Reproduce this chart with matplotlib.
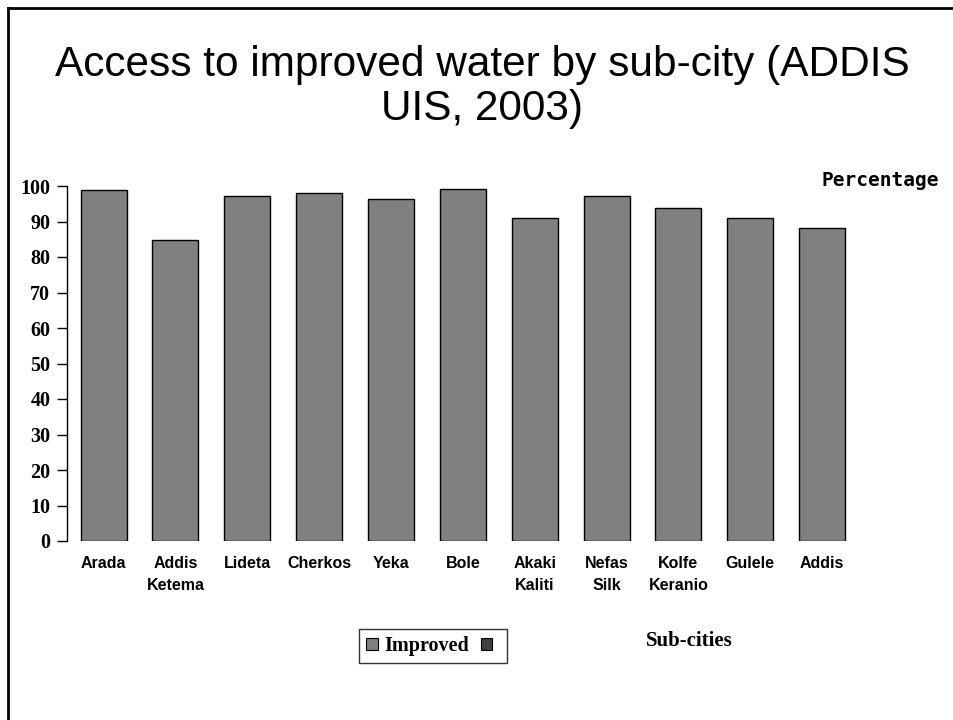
import matplotlib.pyplot as plt
from matplotlib.lines import Line2D
from matplotlib.patches import Patch

# sub-city names and share of households with improved water (%)
sub_cities = ['Arada', 'Addis\nKetema', 'Lideta', 'Cherkos', 'Yeka', 'Bole',
              'Akaki\nKaliti', 'Nefas\nSilk', 'Kolfe\nKeranio', 'Gulele', 'Addis']
improved = [98.8, 84.8, 97.3, 98.0, 96.2, 99.2, 90.9, 97.3, 93.9, 90.9, 88.3]
y_ticks = [0, 10, 20, 30, 40, 50, 60, 70, 80, 90, 100]

fig = plt.figure(figsize=(9.54, 7.2), dpi=100)
W, H = 954, 720
ax = fig.add_axes([67 / W, 1 - 541 / H, (858 - 67) / W, (541 - 186) / H])

x = range(len(sub_cities))
ax.bar(x, improved, width=0.64, color='#808080', edgecolor='black', linewidth=1.0)

ax.set_xlim(-0.51, 10.5)
ax.set_ylim(0, 100)
ax.set_yticks(y_ticks)
ax.set_yticklabels([str(v) for v in y_ticks], fontfamily='Liberation Serif',
                   fontweight='bold', fontsize=14.5)
ax.tick_params(axis='y', length=7, width=1, pad=5)
ax.set_xticks(list(x))
ax.set_xticklabels(sub_cities, fontfamily='Liberation Sans', fontweight='bold',
                   fontsize=11.5, linespacing=1.55)
ax.tick_params(axis='x', length=0, pad=11)
for s in ['top', 'right', 'bottom']:
    ax.spines[s].set_visible(False)
ax.spines['left'].set_linewidth(1)

# title
fig.text(482 / W, 1 - 87 / H, 'Access to improved water by sub-city (ADDIS\nUIS, 2003)',
         ha='center', va='center', fontfamily='Liberation Sans', fontsize=30.5,
         linespacing=1.13)

fig.text(880 / W, 1 - 180 / H, 'Percentage', ha='center', va='center',
         fontfamily='DejaVu Sans Mono', fontweight='bold', fontsize=14)
fig.text(689 / W, 1 - 641 / H, 'Sub-cities', ha='center', va='center',
         fontfamily='Liberation Serif', fontweight='bold', fontsize=15)

# legend: grey for improved, dark square with no label
handles = [Patch(facecolor='#808080', edgecolor='black', linewidth=0.8),
           Patch(facecolor='#404040', edgecolor='black', linewidth=0.8)]
leg = fig.legend(handles, ['Improved', ''], ncol=2, loc='center',
                 bbox_to_anchor=(433 / W, 1 - 646 / H), frameon=True, fancybox=False,
                 prop={'family': 'Liberation Serif', 'weight': 'bold', 'size': 14.5},
                 handlelength=0.55, handleheight=0.55, handletextpad=0.35,
                 columnspacing=0.6, borderpad=0.35)
leg.get_frame().set_edgecolor('black')
leg.get_frame().set_linewidth(1)

# slide frame at top and left
fig.add_artist(Line2D([8 / W, 1], [1 - 8 / H, 1 - 8 / H], color='black', linewidth=2))
fig.add_artist(Line2D([8 / W, 8 / W], [0, 1 - 8 / H], color='black', linewidth=2))

fig.savefig('out.png', dpi=100)
